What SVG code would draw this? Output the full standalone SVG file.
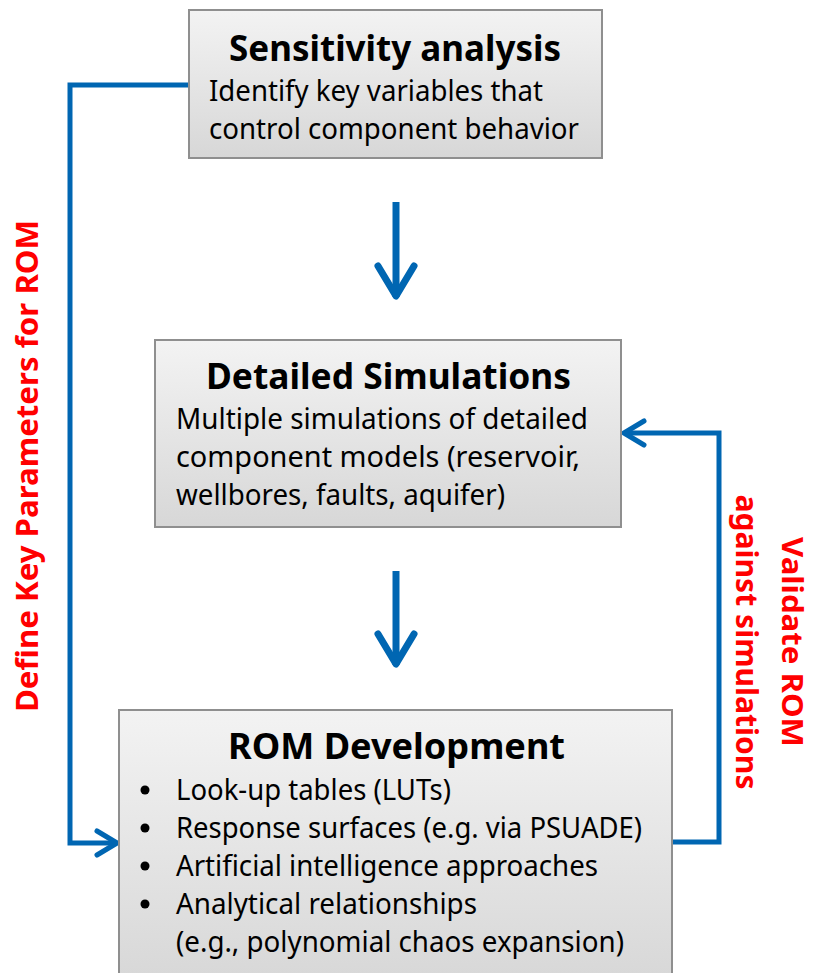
<svg xmlns="http://www.w3.org/2000/svg" width="813" height="973" viewBox="0 0 813 973">
<defs>
<linearGradient id="boxfill" x1="0" y1="0" x2="0" y2="1">
<stop offset="0" stop-color="#f3f3f3"/>
<stop offset="1" stop-color="#d7d7d7"/>
</linearGradient>
<marker id="chev" markerUnits="userSpaceOnUse" viewBox="-26 -16 30 32" refX="0" refY="0" markerWidth="30" markerHeight="32" orient="auto" overflow="visible">
<path d="M-20,-12 L0,0 L-20,12" fill="none" stroke="#0066B2" stroke-width="5" stroke-linecap="round" stroke-linejoin="round"/>
</marker>
<marker id="chevbig" markerUnits="userSpaceOnUse" viewBox="-36 -22 40 44" refX="0" refY="0" markerWidth="40" markerHeight="44" orient="auto" overflow="visible">
<path d="M-31,-18 L-1,0 L-31,18" fill="none" stroke="#0066B2" stroke-width="7" stroke-linecap="round" stroke-linejoin="round"/>
</marker>
</defs>
<style>
.box{fill:url(#boxfill);stroke:#8f8f8f;stroke-width:2}
.title{font-family:"Noto Sans","Open Sans",sans-serif;font-weight:bold;font-size:36px;fill:#000;text-anchor:middle}
.body{font-family:"Noto Sans","Open Sans",sans-serif;font-size:29px;fill:#000}
.lbl{font-family:"Noto Sans","Open Sans",sans-serif;font-weight:bold;font-size:30px;fill:#ff0000;text-anchor:middle}
.lbl2{font-size:28px}
.conn{fill:none;stroke:#0066B2;stroke-width:5;stroke-linejoin:miter}
.down{fill:none;stroke:#0066B2;stroke-width:7}
</style>
<g id="connectors">
<path class="conn" d="M189,85 L70,85 L70,843 L117,843" marker-end="url(#chev)"/>
<path class="conn" d="M672,842 L719,842 L719,433 L624,433" marker-end="url(#chev)"/>
<path class="down" d="M396,202 L396,297" marker-end="url(#chevbig)"/>
<path class="down" d="M396,571 L396,665" marker-end="url(#chevbig)"/>
</g>
<g id="label-define">
<text class="lbl" transform="translate(38,466) rotate(-90)" textLength="492" lengthAdjust="spacingAndGlyphs">Define Key Parameters for ROM</text>
</g>
<g id="label-validate">
<text class="lbl lbl2" transform="translate(782,642) rotate(90)" textLength="210" lengthAdjust="spacingAndGlyphs">Validate ROM</text>
<text class="lbl" transform="translate(736,642) rotate(90)" textLength="295" lengthAdjust="spacingAndGlyphs">against simulations</text>
</g>
<g id="node-sensitivity">
<rect class="box" x="189" y="10" width="413" height="148"/>
<text class="title" x="395" y="61" textLength="332" lengthAdjust="spacingAndGlyphs">Sensitivity analysis</text>
<text class="body" x="209" y="101" textLength="334" lengthAdjust="spacingAndGlyphs">Identify key variables that</text>
<text class="body" x="209" y="139" textLength="370" lengthAdjust="spacingAndGlyphs">control component behavior</text>
</g>
<g id="node-detailed">
<rect class="box" x="155" y="340" width="466" height="187"/>
<text class="title" x="388.5" y="389" textLength="365" lengthAdjust="spacingAndGlyphs">Detailed Simulations</text>
<text class="body" x="176" y="429" textLength="412" lengthAdjust="spacingAndGlyphs">Multiple simulations of detailed</text>
<text class="body" x="176" y="467" textLength="404" lengthAdjust="spacingAndGlyphs">component models (reservoir,</text>
<text class="body" x="176" y="505" textLength="329" lengthAdjust="spacingAndGlyphs">wellbores, faults, aquifer)</text>
</g>
<g id="node-rom">
<rect class="box" x="119" y="710" width="553" height="275"/>
<text class="title" x="396.5" y="759" textLength="337" lengthAdjust="spacingAndGlyphs">ROM Development</text>
<circle cx="145" cy="790" r="4.5"/>
<circle cx="145" cy="828" r="4.5"/>
<circle cx="145" cy="866" r="4.5"/>
<circle cx="145" cy="904" r="4.5"/>
<text class="body" x="176" y="800" textLength="275" lengthAdjust="spacingAndGlyphs">Look-up tables (LUTs)</text>
<text class="body" x="176" y="838" textLength="466" lengthAdjust="spacingAndGlyphs">Response surfaces (e.g. via PSUADE)</text>
<text class="body" x="176" y="876" textLength="422" lengthAdjust="spacingAndGlyphs">Artificial intelligence approaches</text>
<text class="body" x="176" y="914" textLength="301" lengthAdjust="spacingAndGlyphs">Analytical relationships</text>
<text class="body" x="176" y="952" textLength="448" lengthAdjust="spacingAndGlyphs">(e.g., polynomial chaos expansion)</text>
</g>
</svg>
